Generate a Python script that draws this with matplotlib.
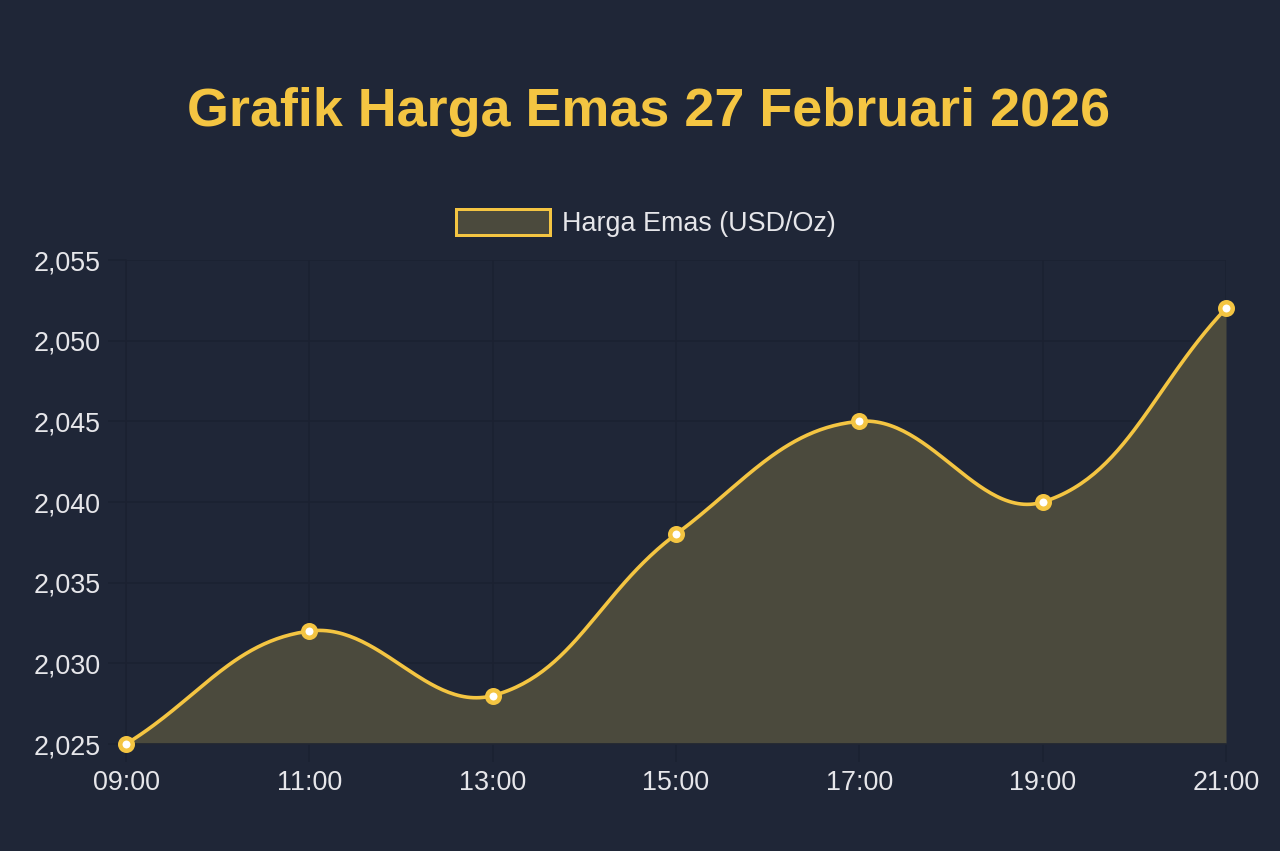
import numpy as np
import matplotlib
matplotlib.use("Agg")
import matplotlib.pyplot as plt
from matplotlib.patches import Patch

# ---- data ----
times = ["09:00", "11:00", "13:00", "15:00", "17:00", "19:00", "21:00"]
prices = [2025, 2032, 2028, 2038, 2045, 2040, 2052]
y_ticks = [2025, 2030, 2035, 2040, 2045, 2050, 2055]
title = "Grafik Harga Emas 27 Februari 2026"
series_label = "Harga Emas (USD/Oz)"

# ---- styles ----
BG = "#1f2637"
GOLD = "#f4c542"
FILL = "#4b4a3d"
GRID = "#1b2131"
TXT = "#e6e6ea"
PX = 72 / 100.0  # points per pixel at dpi 100

plt.rcParams['font.family'] = ['Liberation Sans', 'DejaVu Sans']

fig = plt.figure(figsize=(12.8, 8.51), dpi=100, facecolor=BG)
W, H = 1280, 851
left, right, top, bottom = 126, 1226, 260, 744
ax = fig.add_axes([left / W, 1 - bottom / H, (right - left) / W, (bottom - top) / H])
ax.set_facecolor(BG)

x = np.arange(len(times))
ax.set_xlim(x[0], x[-1])
ax.set_ylim(y_ticks[0], y_ticks[-1])

# Chart.js-style spline (tension 0.4) computed in display space
fig.canvas.draw()
pts = ax.transData.transform(np.column_stack([x, prices]))
t = 0.4
n = len(pts)
cps_prev, cps_next = [], []
for i in range(n):
    prev = pts[i - 1] if i > 0 else pts[i]
    cur = pts[i]
    nxt = pts[i + 1] if i < n - 1 else pts[i]
    d01 = np.hypot(*(cur - prev))
    d12 = np.hypot(*(nxt - cur))
    s = d01 + d12
    s01 = d01 / s if s else 0
    s12 = d12 / s if s else 0
    cps_prev.append(cur - t * s01 * (nxt - prev))
    cps_next.append(cur + t * s12 * (nxt - prev))
curve = []
for i in range(n - 1):
    p0, p1, p2, p3 = pts[i], cps_next[i], cps_prev[i + 1], pts[i + 1]
    u = np.linspace(0, 1, 60)[:, None]
    seg = ((1 - u) ** 3) * p0 + 3 * ((1 - u) ** 2) * u * p1 + 3 * (1 - u) * u ** 2 * p2 + u ** 3 * p3
    curve.append(seg if i == 0 else seg[1:])
curve = np.vstack(curve)
curve_data = ax.transData.inverted().transform(curve)

ax.fill_between(curve_data[:, 0], curve_data[:, 1], y_ticks[0], color=FILL, lw=0, zorder=2)
ax.plot(curve_data[:, 0], curve_data[:, 1], color=GOLD, lw=3.6 * PX, zorder=3,
        solid_capstyle='round', clip_on=False)
ax.plot(x, prices, ls='none', marker='o', ms=12.5 * PX, mfc='white', mec=GOLD, mew=4.5 * PX,
        zorder=4, clip_on=False)

# axes styling
ax.set_xticks(x)
ax.set_xticklabels(times)
ax.set_yticks(y_ticks)
ax.set_yticklabels([f"{v:,}" for v in y_ticks])
ax.grid(True, color=GRID, lw=1.5 * PX, zorder=0)
ax.set_axisbelow(True)
ax.tick_params(axis='both', colors=GRID, length=18 * PX, width=1.5 * PX, labelcolor=TXT,
               labelsize=19.4, pad=5)
ax.tick_params(axis='x', pad=6)
for s in ['top', 'right']:
    ax.spines[s].set_visible(False)
for s in ['left', 'bottom']:
    ax.spines[s].set_color(GRID)
    ax.spines[s].set_linewidth(1.5 * PX)

# title
fig.text(648.5 / W, 1 - 112 / H, title, ha='center', va='center', color=GOLD,
         fontsize=38.8, fontweight='bold')

# legend
handle = Patch(facecolor=FILL, edgecolor=GOLD, linewidth=3 * PX)
leg = fig.legend([handle], [series_label], loc='center', bbox_to_anchor=(646 / W, 1 - 223 / H),
                 frameon=False, fontsize=19.4, handlelength=3.48, handleheight=1.1,
                 handletextpad=0.45, borderpad=0, borderaxespad=0)
for txt in leg.get_texts():
    txt.set_color(TXT)

fig.savefig("out.png", dpi=100, facecolor=BG)
